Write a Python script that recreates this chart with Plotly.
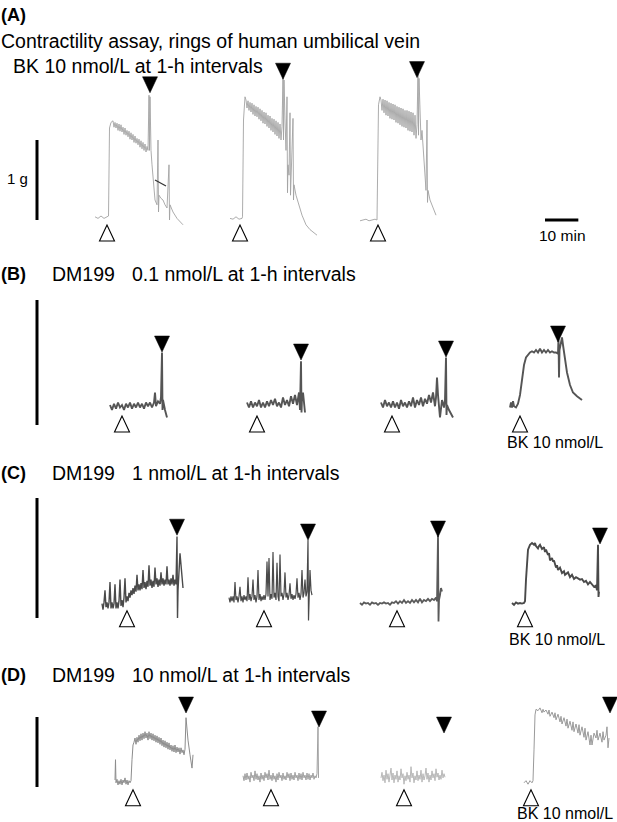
import plotly.graph_objects as go

# ---------------------------------------------------------------
# Recorded traces: (minutes from start of the trace, tension in g)
# ---------------------------------------------------------------
A1 = [(0, .04), (0.9, .02), (1.8, .05), (2.7, .02), (3.6, .04), (4.05, .05), (4.35, 1.15), (4.8, 1.22), (5.4, 1.24),
      (5.7, 1.16), (6.0, 1.22), (6.3, 1.15), (6.6, 1.21), (6.9, 1.12), (7.2, 1.20), (7.5, 1.11), (7.8, 1.19), (8.1, 1.10),
      (8.4, 1.16), (8.7, 1.07), (9.0, 1.15), (9.3, 1.06), (9.6, 1.12), (9.9, 1.04), (10.2, 1.11), (10.5, 1.01),
      (10.8, 1.09), (11.1, 1.00), (11.4, 1.07), (11.7, 0.97), (12.0, 1.05), (12.3, 0.96), (12.6, 1.02), (12.9, 0.94),
      (13.2, 1.01), (13.5, 0.91), (13.8, 0.99), (14.1, 0.89), (14.4, 0.97), (14.7, 0.87), (15.0, 0.95), (15.3, 0.85),
      (15.6, 0.92), (15.9, 0.87), (16.2, 1.56), (16.35, 0.87), (16.5, 1.54), (16.65, 1.00), (16.8, 0.87), (17.1, 0.69),
      (17.4, 0.50), (17.7, 0.37), (18.0, 0.25), (18.6, 0.19), (18.9, 1.00), (19.05, 0.10), (19.2, 0.31), (19.8, 0.27),
      (20.4, 0.25), (21.0, 0.19), (21.6, 0.15), (22.2, 0.69), (22.35, 0.00), (22.5, 0.19), (23.4, 0.10), (24.6, 0.02),
      (26.4, -0.06)]
A1_PEN_MARK = [(18.0, 0.50), (21.3, 0.425)]   # short dark pen stroke on the first recording
A2 = [(0, .02), (0.9, .01), (1.8, .04), (2.7, .01), (3.6, .02), (3.75, .04), (4.05, 1.25), (4.5, 1.54), (4.8, 1.50),
      (5.1, 1.40), (5.4, 1.49), (5.7, 1.37), (6.0, 1.47), (6.3, 1.35), (6.6, 1.46), (6.9, 1.32), (7.2, 1.44), (7.5, 1.30),
      (7.8, 1.42), (8.1, 1.29), (8.4, 1.41), (8.7, 1.26), (9.0, 1.39), (9.3, 1.24), (9.6, 1.37), (9.9, 1.21), (10.2, 1.35),
      (10.5, 1.20), (10.8, 1.34), (11.1, 1.17), (11.4, 1.31), (11.7, 1.15), (12.0, 1.30), (12.3, 1.12), (12.6, 1.27),
      (12.9, 1.10), (13.2, 1.26), (13.5, 1.07), (13.8, 1.24), (14.1, 1.05), (14.4, 1.22), (14.7, 1.02), (15.0, 1.20),
      (15.3, 1.00), (15.6, 1.17), (15.9, 1.79), (16.05, 1.00), (16.2, 1.75), (16.5, 1.25), (16.8, 0.87), (17.1, 1.54),
      (17.25, 0.34), (17.4, 0.69), (17.7, 0.56), (18.0, 1.34), (18.15, 0.31), (18.3, 0.50), (18.9, 1.27), (19.05, 0.25),
      (19.2, 0.44), (19.8, 0.31), (20.7, 0.19), (21.6, 0.06), (22.8, -0.06), (24.0, -0.12), (26.1, -0.19)]
A3 = [(0, -.01), (0.9, 0), (1.8, .01), (2.7, -.01), (3.6, 0), (4.5, .01), (5.1, 0), (5.25, .87), (5.55, 1.44), (6.0, 1.54),
      (6.3, 1.50), (6.6, 1.37), (6.9, 1.51), (7.2, 1.34), (7.5, 1.50), (7.8, 1.31), (8.1, 1.49), (8.4, 1.30), (8.7, 1.47),
      (9.0, 1.27), (9.3, 1.46), (9.6, 1.26), (9.9, 1.45), (10.2, 1.25), (10.5, 1.44), (10.8, 1.22), (11.1, 1.42),
      (11.4, 1.21), (11.7, 1.41), (12.0, 1.19), (12.3, 1.40), (12.6, 1.17), (12.9, 1.39), (13.2, 1.16), (13.5, 1.37),
      (13.8, 1.15), (14.1, 1.37), (14.4, 1.12), (14.7, 1.36), (15.0, 1.11), (15.3, 1.35), (15.6, 1.10), (15.9, 1.34),
      (16.2, 1.06), (16.5, 1.31), (16.8, 1.02), (17.1, 1.19), (17.4, 1.84), (17.55, 1.06), (17.7, 1.77), (18.0, 1.44),
      (18.3, 1.00), (18.6, 1.12), (19.2, 0.75), (19.8, 0.37), (20.1, 1.25), (20.25, 0.22), (20.4, 0.37), (21.0, 0.25),
      (21.6, 0.19), (22.2, 0.12), (22.8, 0.06)]

B1 = [(0, .16), (0.6, .12), (1.2, .17), (1.8, .13), (2.4, .18), (3.0, .14), (3.6, .16), (4.2, .12), (4.8, .17), (5.4, .14),
      (6.0, .18), (6.6, .13), (7.2, .17), (7.8, .14), (8.4, .18), (9.0, .14), (9.6, .17), (10.2, .13), (10.8, .18),
      (11.4, .15), (12.0, .18), (12.6, .14), (13.2, .18), (13.5, .26), (13.8, .15), (14.4, .19), (15.0, .17), (15.3, .22),
      (15.6, .58), (15.75, .12), (15.9, .20), (16.5, .12), (17.1, .06)]
B2 = [(0, .18), (0.6, .14), (1.2, .19), (1.8, .14), (2.4, .18), (3.0, .15), (3.6, .20), (4.2, .14), (4.8, .18), (5.4, .14),
      (6.0, .19), (6.6, .15), (7.2, .20), (7.8, .16), (8.4, .21), (9.0, .15), (9.6, .18), (10.2, .14), (10.8, .22),
      (11.4, .16), (12.0, .20), (12.6, .15), (13.2, .23), (13.8, .17), (14.4, .24), (15.0, .16), (15.6, .26), (15.9, .12),
      (16.2, .51), (16.35, .10), (16.5, .22), (16.8, .26), (17.1, .14), (17.4, .10)]
B3 = [(0, .18), (0.6, .14), (1.2, .20), (1.8, .15), (2.4, .18), (3.0, .14), (3.6, .19), (4.2, .14), (4.8, .18), (5.4, .13),
      (6.0, .20), (6.6, .15), (7.2, .18), (7.8, .14), (8.4, .19), (9.0, .15), (9.6, .22), (10.2, .14), (10.8, .20),
      (11.4, .16), (12.0, .22), (12.6, .15), (13.2, .21), (13.8, .17), (14.4, .24), (15.0, .18), (15.6, .26), (16.2, .15),
      (16.5, .22), (16.8, .38), (17.1, .24), (17.4, .12), (17.7, .06), (18.3, .20), (18.9, .14), (19.2, .20), (19.5, .54),
      (19.65, .08), (19.8, .16), (20.4, .12), (21.0, .09), (21.6, .06)]
B4 = [(0, .14), (0.3, .18), (0.6, .14), (0.9, .19), (1.2, .15), (1.8, .14), (2.4, .17), (3.0, .24), (3.6, .36), (4.2, .48),
      (4.8, .54), (5.4, .56), (6.0, .58), (6.6, .59), (7.2, .58), (7.8, .60), (8.4, .58), (9.0, .61), (9.6, .58), (10.2, .60),
      (10.8, .58), (11.4, .60), (12.0, .58), (12.6, .59), (13.2, .58), (13.8, .58), (14.4, .57), (14.55, .70), (14.7, .38),
      (14.85, .60), (15.3, .68), (15.6, .70), (15.9, .64), (16.5, .52), (17.1, .42), (18.0, .32), (18.9, .26), (20.1, .23),
      (21.6, .20)]

C1 = [(0, .12), (0.3, .07), (0.6, .13), (0.9, .23), (1.2, .09), (1.5, .13), (1.8, .08), (2.1, .13), (2.4, .30), (2.7, .08),
      (3.0, .13), (3.3, .08), (3.6, .12), (3.9, .28), (4.2, .08), (4.5, .13), (4.8, .08), (5.1, .14), (5.4, .32), (5.7, .10),
      (6.0, .15), (6.3, .09), (6.6, .17), (6.9, .33), (7.2, .13), (7.5, .18), (7.8, .14), (8.1, .21), (8.4, .17), (8.7, .23),
      (9.0, .19), (9.3, .25), (9.6, .20), (9.9, .27), (10.2, .22), (10.5, .36), (10.8, .23), (11.1, .28), (11.4, .23),
      (11.7, .29), (12.0, .24), (12.3, .40), (12.6, .25), (12.9, .30), (13.2, .24), (13.5, .31), (13.8, .26), (14.1, .44),
      (14.4, .27), (14.7, .32), (15.0, .25), (15.3, .31), (15.6, .26), (15.9, .42), (16.2, .28), (16.5, .33), (16.8, .26),
      (17.1, .32), (17.4, .27), (17.7, .38), (18.0, .28), (18.3, .33), (18.6, .27), (18.9, .32), (19.2, .28), (19.5, .43),
      (19.8, .28), (20.1, .32), (20.4, .27), (20.7, .33), (21.0, .28), (21.3, .36), (21.6, .27), (21.9, .32), (22.2, .28),
      (22.5, .68), (22.65, 0.0), (22.8, .23), (23.4, .54), (24.3, .25)]
C2 = [(0, .17), (0.3, .13), (0.6, .18), (0.9, .14), (1.2, .18), (1.5, .13), (1.8, .30), (2.1, .15), (2.4, .18), (2.7, .13),
      (3.0, .18), (3.3, .26), (3.6, .14), (3.9, .18), (4.2, .13), (4.5, .19), (4.8, .15), (5.1, .18), (5.4, .14), (5.7, .34),
      (6.0, .15), (6.3, .20), (6.6, .14), (6.9, .18), (7.2, .32), (7.5, .15), (7.8, .19), (8.1, .13), (8.4, .18), (8.7, .40),
      (9.0, .15), (9.3, .20), (9.6, .14), (9.9, .18), (10.2, .15), (10.5, .19), (10.8, .15), (11.1, .20), (11.4, .47),
      (11.7, .18), (12.0, .50), (12.3, .15), (12.6, .20), (12.9, .16), (13.2, .55), (13.5, .17), (13.8, .21), (14.1, .15),
      (14.4, .46), (14.7, .18), (15.0, .14), (15.3, .53), (15.6, .18), (15.9, .21), (16.2, .15), (16.5, .20), (16.8, .38),
      (17.1, .17), (17.4, .21), (17.7, .15), (18.0, .19), (18.3, .29), (18.6, .16), (18.9, .20), (19.2, .15), (19.5, .19),
      (19.8, .16), (20.1, .20), (20.4, .33), (20.7, .17), (21.0, .21), (21.3, .15), (21.6, .20), (21.9, .40), (22.2, .17),
      (22.5, .21), (22.8, .32), (23.1, .18), (23.4, .22), (23.7, .65), (23.85, -.02), (24.0, .18), (24.3, .40), (24.6, .23),
      (24.9, .19)]
C3 = [(0, .125), (0.6, .11), (1.2, .13), (1.8, .12), (2.4, .125), (3.0, .11), (3.6, .13), (4.2, .12), (4.8, .125),
      (5.4, .11), (6.0, .125), (6.6, .12), (7.2, .13), (7.8, .12), (8.4, .125), (9.0, .11), (9.6, .13), (10.2, .125),
      (10.8, .14), (11.4, .12), (12.0, .14), (12.6, .125), (13.2, .15), (13.8, .125), (14.4, .14), (15.0, .125), (15.6, .15),
      (16.2, .13), (16.8, .15), (17.4, .13), (18.0, .16), (18.6, .13), (19.2, .15), (19.8, .14), (20.4, .16), (21.0, .14),
      (21.6, .16), (22.2, .15), (22.8, .17), (23.1, .14), (23.4, .69), (23.55, -.03), (23.7, .15), (24.0, .19), (24.3, .25),
      (24.6, .22)]
C4 = [(0, .125), (0.6, .11), (1.2, .13), (1.8, .12), (2.4, .125), (3.0, .12), (3.6, .125), (3.9, .14), (4.2, .32),
      (4.5, .48), (4.8, .57), (5.4, .61), (6.0, .625), (6.6, .61), (6.9, .625), (7.2, .60), (7.8, .58), (8.1, .60), (8.4, .61),
      (9.0, .575), (9.6, .59), (9.9, .55), (10.2, .57), (10.8, .525), (11.1, .54), (11.4, .48), (12.0, .50), (12.3, .47),
      (12.6, .48), (13.2, .42), (13.5, .44), (13.8, .40), (14.4, .42), (15.0, .375), (15.6, .39), (15.9, .36), (16.5, .375),
      (16.8, .38), (17.4, .34), (18.0, .36), (18.6, .325), (19.2, .34), (19.8, .33), (20.4, .32), (21.0, .325), (21.6, .30),
      (22.2, .31), (22.8, .28), (23.4, .30), (24.0, .275), (24.6, .26), (25.2, .27), (25.5, .23), (25.8, .61), (25.95, .175),
      (26.1, .22)]

D1 = [(0, .10), (0.15, .39), (0.3, .06), (0.6, .11), (0.9, .03), (1.2, .09), (1.5, .04), (1.8, .11), (2.1, .03), (2.4, .10),
      (2.7, .06), (3.0, .13), (3.3, .04), (3.6, .10), (3.9, .03), (4.2, .09), (4.5, .06), (4.8, .09), (5.1, .39), (5.4, .60),
      (5.7, .64), (6.0, .70), (6.3, .61), (6.6, .71), (6.9, .64), (7.2, .74), (7.5, .66), (7.8, .76), (8.1, .67), (8.4, .77),
      (8.7, .69), (9.0, .79), (9.3, .70), (9.6, .77), (9.9, .67), (10.2, .79), (10.5, .69), (10.8, .77), (11.1, .67),
      (11.4, .76), (11.7, .66), (12.0, .74), (12.3, .64), (12.6, .73), (12.9, .63), (13.2, .71), (13.5, .61), (13.8, .70),
      (14.1, .59), (14.4, .67), (14.7, .57), (15.0, .66), (15.3, .56), (15.6, .64), (15.9, .54), (16.2, .63), (16.5, .53),
      (16.8, .60), (17.1, .51), (17.4, .59), (17.7, .50), (18.0, .60), (18.3, .49), (18.6, .57), (18.9, .50), (19.2, .56),
      (19.5, .47), (19.8, .56), (20.1, .49), (20.4, .53), (20.7, .46), (21.0, .54), (21.3, .99), (21.6, .81), (21.9, .67),
      (22.5, .46), (23.1, .27), (23.4, .46)]
D2 = [(0, .16), (0.3, .09), (0.6, .19), (0.9, .10), (1.2, .20), (1.5, .11), (1.8, .16), (2.1, .07), (2.4, .21), (2.7, .13),
      (3.0, .17), (3.3, .09), (3.6, .23), (3.9, .11), (4.2, .19), (4.5, .10), (4.8, .16), (5.1, .07), (5.4, .20), (5.7, .11),
      (6.0, .17), (6.3, .09), (6.6, .21), (6.9, .13), (7.2, .19), (7.5, .10), (7.8, .24), (8.1, .11), (8.4, .17), (8.7, .09),
      (9.0, .20), (9.3, .11), (9.6, .16), (9.9, .07), (10.2, .19), (10.5, .10), (10.8, .21), (11.1, .13), (11.4, .17),
      (11.7, .09), (12.0, .20), (12.3, .11), (12.6, .16), (12.9, .10), (13.2, .21), (13.5, .13), (13.8, .19), (14.1, .09),
      (14.4, .20), (14.7, .11), (15.0, .17), (15.3, .10), (15.6, .21), (15.9, .13), (16.2, .17), (16.5, .09), (16.8, .20),
      (17.1, .11), (17.4, .19), (17.7, .10), (18.0, .21), (18.3, .13), (18.6, .17), (18.9, .10), (19.2, .20), (19.5, .11),
      (19.8, .19), (20.1, .10), (20.4, .17), (20.7, .13), (21.0, .20), (21.3, .11), (21.6, .16), (21.9, .13), (22.2, .19),
      (22.5, .86), (22.65, .13)]
D3 = [(0, .13), (0.3, .21), (0.6, .09), (0.9, .17), (1.2, .06), (1.5, .24), (1.8, .11), (2.1, .19), (2.4, .07), (2.7, .16),
      (3.0, .27), (3.3, .10), (3.6, .20), (3.9, .06), (4.2, .17), (4.5, .11), (4.8, .23), (5.1, .07), (5.4, .16), (5.7, .10),
      (6.0, .26), (6.3, .13), (6.6, .19), (6.9, .04), (7.2, .16), (7.5, .09), (7.8, .21), (8.1, .11), (8.4, .17), (8.7, .07),
      (9.0, .29), (9.3, .13), (9.6, .20), (9.9, .06), (10.2, .16), (10.5, .10), (10.8, .23), (11.1, .09), (11.4, .17),
      (11.7, .11), (12.0, .24), (12.3, .07), (12.6, .19), (12.9, .10), (13.2, .16), (13.5, .27), (13.8, .11), (14.1, .20),
      (14.4, .07), (14.7, .17), (15.0, .10), (15.3, .23), (15.6, .13), (15.9, .19), (16.2, .09), (16.5, .26), (16.8, .14),
      (17.1, .20), (17.4, .10), (17.7, .17), (18.0, .11), (18.3, .24), (18.6, .13), (18.9, .19), (19.2, .14)]
D4 = [(0, .06), (0.6, .09), (1.2, .04), (1.8, .09), (2.4, .06), (2.7, .09), (3.0, .53), (3.3, 1.03), (3.6, 1.11), (4.2, 1.09),
      (4.8, 1.13), (5.4, 1.06), (5.7, 1.11), (6.0, 1.07), (6.6, 1.10), (7.2, 1.04), (7.5, 1.10), (7.8, 1.01), (8.4, 1.07),
      (9.0, 0.99), (9.3, 1.06), (9.6, 0.96), (10.2, 1.04), (10.8, 0.93), (11.1, 1.01), (11.4, 0.90), (12.0, 0.99),
      (12.6, 0.87), (12.9, 0.97), (13.2, 0.84), (13.8, 0.94), (14.4, 0.81), (14.7, 0.93), (15.0, 0.79), (15.6, 0.90),
      (16.2, 0.77), (16.5, 0.89), (16.8, 0.74), (17.4, 0.86), (18.0, 0.71), (18.3, 0.84), (18.6, 0.67), (19.2, 0.79),
      (19.8, 0.60), (20.1, 0.74), (20.4, 0.60), (21.0, 0.77), (21.6, 0.70), (21.9, 0.81), (22.2, 0.67), (22.8, 0.77),
      (23.4, 0.64), (23.7, 0.79), (24.0, 0.67), (24.6, 0.74), (24.9, 0.86), (25.2, 0.56), (25.5, 0.70)]

# start of each trace on the panel time axis (min)
A_START = [28.5, 69.0, 108.0]
B_START = [33.0, 74.1, 114.3, 153.0]
C_START = [30.6, 68.7, 108.0, 153.6]
D_START = [34.5, 72.9, 114.3, 157.2]

# event markers: open = agonist added, filled = next challenge (min / g)
A_OPEN_T = [32.1, 72.0, 113.4]
A_FILL_T = [45.0, 84.9, 125.1]
A_FILL_G = [1.59, 1.76, 1.78]
B_OPEN_T = [36.6, 77.1, 117.6, 156.0]
B_FILL_T = [48.6, 90.3, 133.8, 167.4]
B_FILL_G = [0.584, 0.52, 0.544, 0.664]
C_OPEN_T = [38.1, 79.2, 119.1, 157.5]
C_FILL_T = [53.1, 92.4, 131.4, 180.0]
C_FILL_G = [0.69, 0.65, 0.675, 0.617]
D_OPEN_T = [39.9, 81.3, 121.2, 159.3]
D_FILL_T = [55.8, 95.7, 133.2, 183.0]
D_FILL_G = [1.057, 0.857, 0.771, 1.057]

SCALE_G = 1.0      # vertical calibration bar (g)
SCALE_MIN = 10.0   # horizontal calibration bar (min)

# ---------------------------------------------------------------
W, H = 617, 822
FONT = "Liberation Sans, Arial, sans-serif"
X_RANGE = [0, W * 0.3]

PANELS = [
    dict(traces=[A1, A2, A3], starts=A_START, open_t=A_OPEN_T, fill_t=A_FILL_T, fill_g=A_FILL_G, open_g=-0.0625,
         zero=220, ppg=80, top=40, bot=252, colors=['#a3a3a3'] * 3, widths=[0.9] * 3),
    dict(traces=[B1, B2, B3, B4], starts=B_START, open_t=B_OPEN_T, fill_t=B_FILL_T, fill_g=B_FILL_G, open_g=0.072,
         zero=425, ppg=125, top=290, bot=440, colors=['#555555'] * 4, widths=[1.9] * 4),
    dict(traces=[C1, C2, C3, C4], starts=C_START, open_t=C_OPEN_T, fill_t=C_FILL_T, fill_g=C_FILL_G, open_g=0.06,
         zero=618, ppg=120, top=490, bot=636, colors=['#4a4a4a', '#4a4a4a', '#5a5a5a', '#4a4a4a'],
         widths=[1.4, 1.2, 1.8, 1.9]),
    dict(traces=[D1, D2, D3, D4], starts=D_START, open_t=D_OPEN_T, fill_t=D_FILL_T, fill_g=D_FILL_G, open_g=-0.04,
         zero=787, ppg=70, top=690, bot=822, colors=['#8c8c8c', '#a0a0a0', '#b8b8b8', '#9a9a9a'],
         widths=[1.0, 1.0, 1.0, 1.0]),
]

BAR_T = 11.1       # position of vertical calibration bars (min)
TIME_BAR_T = 163.5

fig = go.Figure()
layout = dict(width=W, height=H, margin=dict(l=0, r=0, t=0, b=0), paper_bgcolor='white', plot_bgcolor='white',
              showlegend=False)
shapes = []
annotations = []

FILLED_PATH = 'M -7.5 16 L 7.5 16 L 0 0 Z'
OPEN_PATH = 'M 0 0 L -7.5 -16 L 7.5 -16 Z'

for i, p in enumerate(PANELS, start=1):
    xa = 'x' if i == 1 else f'x{i}'
    ya = 'y' if i == 1 else f'y{i}'
    lo = (p['zero'] - p['bot']) / p['ppg']
    hi = (p['zero'] - p['top']) / p['ppg']
    layout['xaxis' if i == 1 else f'xaxis{i}'] = dict(domain=[0, 1], range=X_RANGE, visible=False, anchor=ya,
                                                      fixedrange=True)
    layout['yaxis' if i == 1 else f'yaxis{i}'] = dict(domain=[1 - p['bot'] / H, 1 - p['top'] / H], range=[lo, hi],
                                                      visible=False, anchor=xa, fixedrange=True)
    for tr, t0, col, lw in zip(p['traces'], p['starts'], p['colors'], p['widths']):
        fig.add_trace(go.Scatter(x=[t0 + a for a, _ in tr], y=[b for _, b in tr], mode='lines',
                                 line=dict(color=col, width=lw), xaxis=xa, yaxis=ya, hoverinfo='skip'))
    if i == 1:
        fig.add_trace(go.Scatter(x=[A_START[0] + a for a, _ in A1_PEN_MARK], y=[b for _, b in A1_PEN_MARK],
                                 mode='lines', line=dict(color='#333333', width=1.2), xaxis=xa, yaxis=ya,
                                 hoverinfo='skip'))
    for t in p['open_t']:
        shapes.append(dict(type='path', xref=xa, yref=ya, xsizemode='pixel', ysizemode='pixel', xanchor=t,
                           yanchor=p['open_g'], path=OPEN_PATH, fillcolor='white',
                           line=dict(color='black', width=1.1)))
    for t, g in zip(p['fill_t'], p['fill_g']):
        shapes.append(dict(type='path', xref=xa, yref=ya, xsizemode='pixel', ysizemode='pixel', xanchor=t,
                           yanchor=g, path=FILLED_PATH, fillcolor='black', line=dict(color='black', width=0.5)))
    shapes.append(dict(type='line', xref=xa, yref=ya, x0=BAR_T, x1=BAR_T, y0=0, y1=SCALE_G,
                       line=dict(color='black', width=3)))
    if i == 1:
        shapes.append(dict(type='line', xref=xa, yref=ya, x0=TIME_BAR_T, x1=TIME_BAR_T + SCALE_MIN, y0=0, y1=0,
                           line=dict(color='black', width=3)))


def label(text, px, py, size, bold=False, anchor='left'):
    annotations.append(dict(x=px / W, y=1 - py / H, xref='paper', yref='paper',
                            text=f'<b>{text}</b>' if bold else text, showarrow=False, xanchor=anchor,
                            yanchor='middle', borderpad=0, font=dict(family=FONT, size=size, color='black')))


label('(A)', 0, 15, 18, bold=True)
label('Contractility assay, rings of human umbilical vein', 0, 41, 19.5)
label('BK 10 nmol/L at 1-h intervals', 12, 66, 19.5)
label('1 g', 6, 178, 15)
label('10 min', 562, 235, 15.5, anchor='center')

label('(B)', 0, 274, 18, bold=True)
label('DM199', 51, 274, 19.5)
label('0.1 nmol/L at 1-h intervals', 131, 274, 19.5)
label('BK 10 nmol/L', 555, 442, 16, anchor='center')

label('(C)', 0, 473, 18, bold=True)
label('DM199', 51, 473, 19.5)
label('1 nmol/L at 1-h intervals', 131, 473, 19.5)
label('BK 10 nmol/L', 557, 639, 16, anchor='center')

label('(D)', 0, 675, 18, bold=True)
label('DM199', 51, 675, 19.5)
label('10 nmol/L at 1-h intervals', 131, 675, 19.5)
label('BK 10 nmol/L', 565, 813, 16, anchor='center')

layout['shapes'] = shapes
layout['annotations'] = annotations
fig.update_layout(**layout)
fig.write_html('out.html', config={'displayModeBar': False},
               post_script="document.body.style.margin='0';document.body.style.padding='0';")
